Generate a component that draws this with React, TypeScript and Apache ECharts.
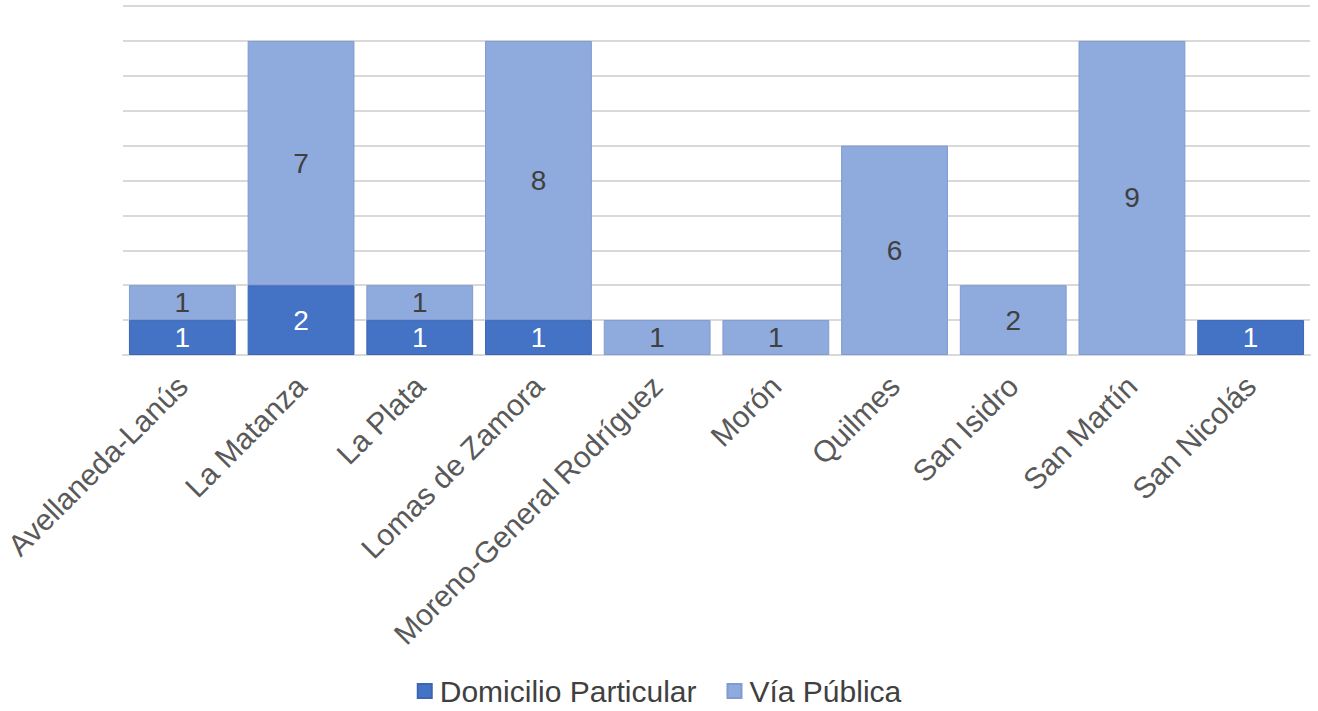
import React, { useEffect, useRef } from "react";
import * as echarts from "echarts";

const categories = [
  "Avellaneda-Lanús",
  "La Matanza",
  "La Plata",
  "Lomas de Zamora",
  "Moreno-General Rodríguez",
  "Morón",
  "Quilmes",
  "San Isidro",
  "San Martín",
  "San Nicolás",
];
const domicilioParticular = [1, 2, 1, 1, 0, 0, 0, 0, 0, 1];
const viaPublica = [1, 7, 1, 8, 1, 1, 6, 2, 9, 0];
const seriesNames = ["Domicilio Particular", "Vía Pública"];

const FONT = "'Liberation Sans', Arial, sans-serif";

export default function App() {
  const ref = useRef<HTMLDivElement>(null);
  useEffect(() => {
    if (!ref.current) return;
    const chart = echarts.init(ref.current, null, { renderer: "svg" });
    const toData = (arr: number[]) => arr.map((v) => (v === 0 ? "-" : v));
    chart.setOption({
      animation: false,
      textStyle: { fontFamily: FONT },
      grid: { left: 123, right: 8, top: 6, bottom: 356, containLabel: false },
      legend: {
        bottom: 0,
        left: "center",
        itemWidth: 14,
        itemHeight: 14,
        itemGap: 30,
        icon: "rect",
        textStyle: { fontSize: 30, color: "#404040", fontFamily: FONT, padding: [0, 0, 0, 3] },
        data: seriesNames,
      },
      xAxis: {
        type: "category",
        data: categories,
        axisLine: { lineStyle: { color: "#d9d9d9", width: 2 } },
        axisTick: { show: false },
        axisLabel: {
          rotate: 45,
          interval: 0,
          fontSize: 30,
          color: "#595959",
          margin: 26,
          fontFamily: FONT,
        },
      },
      yAxis: {
        type: "value",
        min: 0,
        max: 10,
        interval: 1,
        axisLabel: { show: false },
        axisLine: { show: false },
        axisTick: { show: false },
        splitLine: { lineStyle: { color: "#d9d9d9", width: 2 } },
      },
      series: [
        {
          name: seriesNames[0],
          type: "bar",
          stack: "total",
          barCategoryGap: "10%",
          data: toData(domicilioParticular),
          itemStyle: { color: "#4472C4", borderColor: "#3C66B4", borderWidth: 1 },
          label: {
            show: true,
            position: "inside",
            color: "#ffffff",
            fontSize: 28,
            fontFamily: FONT,
          },
        },
        {
          name: seriesNames[1],
          type: "bar",
          stack: "total",
          barCategoryGap: "10%",
          data: toData(viaPublica),
          itemStyle: { color: "#8FAADC", borderColor: "#7F9BD2", borderWidth: 1 },
          label: {
            show: true,
            position: "inside",
            color: "#404040",
            fontSize: 28,
            fontFamily: FONT,
          },
        },
      ],
    });
    return () => chart.dispose();
  }, []);
  return (
    <div
      ref={ref}
      style={{ position: "absolute", left: 0, top: 0, width: 1318, height: 711, background: "#fff" }}
    />
  );
}
